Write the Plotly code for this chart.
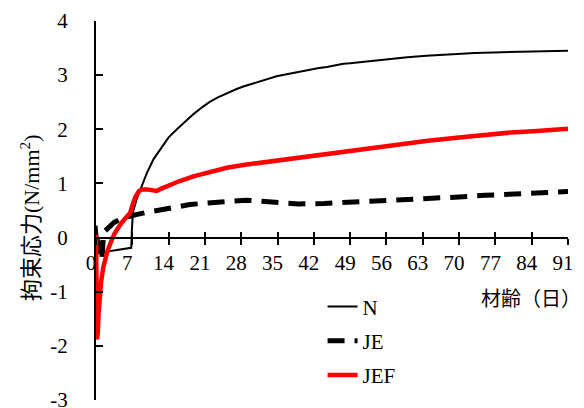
import plotly.graph_objects as go

# ---- data ----
n_days = [0, 0.1, 0.3, 0.8, 1.2, 2.0, 2.7, 4.0, 5.5, 6.8, 6.9, 7.1, 7.8, 8.8, 9.8, 11.1, 12.3, 14, 15.6, 17,
          18.8, 20.5, 22, 23.5, 25.2, 27, 28.4, 30, 31.6, 33, 34.8, 36.5, 38, 40, 41.3, 43, 44.5, 46, 47.7,
          49, 50.9, 54, 57.3, 60, 63.7, 67, 70.2, 73, 76.6, 80, 83, 87, 91]
n_vals = [0, 0.22, 0.0, -0.19, -0.28, -0.27, -0.25, -0.23, -0.21, -0.19, 0.1, 0.46, 0.70, 0.95, 1.19, 1.45,
          1.62, 1.85, 2.0, 2.13, 2.28, 2.41, 2.51, 2.59, 2.67, 2.74, 2.79, 2.84, 2.89, 2.93, 2.98, 3.01, 3.04,
          3.08, 3.10, 3.13, 3.15, 3.18, 3.21, 3.22, 3.24, 3.27, 3.30, 3.33, 3.36, 3.38, 3.40, 3.41, 3.42, 3.43,
          3.44, 3.45, 3.45]

je_days = [0, 0.5, 0.8, 1.1, 1.5, 2.5, 3.5, 4.9, 6.2, 7.5, 9.5, 11.3, 13.3, 16, 18.1, 20.5, 23.3, 27, 29, 32,
           35, 39, 44, 49, 54, 59.4, 64.4, 70, 75, 80.5, 85.6, 91]
je_vals = [0, -0.1, -0.25, -0.42, 0.1, 0.2, 0.28, 0.35, 0.39, 0.42, 0.46, 0.49, 0.53, 0.58, 0.61, 0.63, 0.65,
           0.68, 0.69, 0.67, 0.64, 0.62, 0.63, 0.65, 0.67, 0.70, 0.72, 0.75, 0.78, 0.81, 0.83, 0.85]

jef_days = [0, 0.1, 0.2, 0.35, 0.5, 0.7, 1.0, 1.4, 2.2, 3.0, 3.6, 4.9, 6.0, 6.6, 7.1, 7.6, 8.3, 9.0, 9.8, 10.8,
            11.7, 12.5, 14.3, 16, 18.8, 22, 25.2, 28.4, 31.6, 35, 38, 41.3, 44.5, 48, 52, 56, 60, 64, 70, 75,
            80, 85, 91]
jef_vals = [0.05, -1.0, -1.88, -1.75, -1.4, -1.05, -0.8, -0.55, -0.25, -0.05, 0.08, 0.27, 0.4, 0.46, 0.62, 0.75,
            0.86, 0.89, 0.89, 0.87, 0.86, 0.9, 0.98, 1.04, 1.13, 1.21, 1.29, 1.34, 1.38, 1.43, 1.47, 1.52, 1.56,
            1.6, 1.65, 1.7, 1.75, 1.79, 1.85, 1.9, 1.94, 1.97, 2.01]

x_ticks = list(range(0, 92, 7))
x_tick_labels = [str(v) for v in x_ticks]
y_ticks = [-3, -2, -1, 0, 1, 2, 3, 4]
y_tick_labels = ["-3", "-2", "-1", "0", "1", "2", "3", "4"]

series_names = ["N", "JE", "JEF"]

SERIF = "Liberation Serif"
CJK = "Liberation Serif, Noto Sans CJK JP"

fig = go.Figure()
fig.add_trace(go.Scatter(x=n_days, y=n_vals, mode="lines", name=series_names[0], legendgroup="a",
                         line=dict(color="black", width=2)))
fig.add_trace(go.Scatter(x=je_days, y=je_vals, mode="lines", name=series_names[1], legendgroup="b",
                         line=dict(color="black", width=5, dash="17px,10px")))
fig.add_trace(go.Scatter(x=jef_days, y=jef_vals, mode="lines", name=series_names[2], legendgroup="c",
                         line=dict(color="#FF0000", width=4.5)))
# invisible helper so the overlaid tick axis is rendered
fig.add_trace(go.Scatter(x=n_days, y=n_vals, xaxis="x2", mode="lines", opacity=0, showlegend=False,
                         hoverinfo="skip", line=dict(width=0)))

fig.update_layout(
    width=584, height=408,
    margin=dict(l=96, r=16, t=21, b=8, autoexpand=False),
    paper_bgcolor="white", plot_bgcolor="white",
    font=dict(family=SERIF, size=21, color="black"),
    xaxis=dict(range=[0, 91], tickvals=x_ticks, ticktext=x_tick_labels, anchor="free", position=3 / 7,
               showline=True, linecolor="black", linewidth=2, showgrid=False, zeroline=False,
               ticks="outside", ticklen=6, tickwidth=2, tickcolor="black", ticklabelshift=-5,
               automargin=False, ticklabeloverflow="allow", tickfont=dict(family=SERIF, size=21)),
    xaxis2=dict(range=[0, 91], matches="x", overlaying="x", anchor="free", position=3 / 7,
                tickvals=x_ticks, showticklabels=False, showline=False, showgrid=False, zeroline=False,
                ticks="inside", ticklen=6, tickwidth=2, tickcolor="black", automargin=False),
    yaxis=dict(range=[-3, 4], tickvals=y_ticks, ticktext=y_tick_labels, showline=True, linecolor="black",
               linewidth=2, showgrid=False, zeroline=False, ticks="inside", ticklen=7, tickwidth=2,
               tickcolor="black", ticklabelstandoff=22, automargin=False, ticklabeloverflow="allow",
               tickfont=dict(family=SERIF, size=21)),
    legend=dict(x=0.48, y=0.30, xanchor="left", yanchor="top", bgcolor="rgba(0,0,0,0)",
                font=dict(family=SERIF, size=21), tracegroupgap=4),
    showlegend=True,
)

fig.add_annotation(text="拘束応力(N/mm<sup>2</sup>)", xref="paper", yref="paper",
                   x=(30 - 96) / 472, y=(400 - 218) / 379, textangle=-90, showarrow=False,
                   xanchor="center", yanchor="middle", font=dict(family=CJK, size=22))
fig.add_annotation(text="材齢（日）", xref="paper", yref="paper",
                   x=(531 - 96) / 472, y=(400 - 299) / 379, showarrow=False,
                   xanchor="center", yanchor="middle", font=dict(family=CJK, size=20))

fig.write_html("out.html")
